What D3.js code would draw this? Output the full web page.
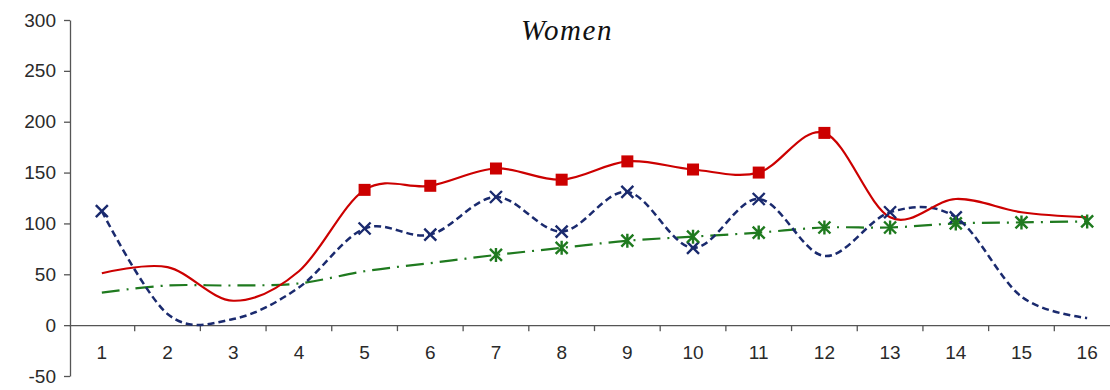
<!DOCTYPE html>
<html>
<head>
<meta charset="utf-8">
<script src="https://cdn.jsdelivr.net/npm/d3@7"></script>
<style>
  html, body { margin: 0; padding: 0; background: #fff; }
  svg { display: block; }
</style>
</head>
<body>
<svg id="chart" width="1110" height="390"></svg>
<script>
const categories = ["1","2","3","4","5","6","7","8","9","10","11","12","13","14","15","16"];
const yTicks = [-50, 0, 50, 100, 150, 200, 250, 300];
const title = "Women";

const redValues   = [51, 57, 24, 53, 133, 137, 154, 143, 161, 153, 150, 189, 106, 124, 111, 106];
const redMarked   = [5, 6, 7, 8, 9, 10, 11, 12];
const blueValues  = [112, 11, 6, 37, 95, 89, 126, 92, 131, 76, 124, 68, 111, 106, 28, 7];
const blueMarked  = [1, 5, 6, 7, 8, 9, 10, 11, 13, 14];
const greenValues = [32, 39, 39, 41, 53, 61, 69, 76, 83, 87, 91, 96, 96, 100, 101, 102];
const greenMarked = [7, 8, 9, 10, 11, 12, 13, 14, 15, 16];

const svg = d3.select("#chart");
const x = d3.scaleBand().domain(categories).range([69, 1120]);
const y = d3.scaleLinear().domain([-50, 300]).range([376, 20]);
const cx = c => x(c) + x.bandwidth() / 2;
const labelFont = "Liberation Sans, Arial, sans-serif";

// Y axis
const yAxis = svg.append("g").attr("transform", "translate(70,0)")
  .call(d3.axisLeft(y).tickValues(yTicks).tickFormat(d => String(d)).tickSize(6).tickSizeOuter(0).tickPadding(8));
yAxis.select(".domain").attr("stroke", "#555").attr("stroke-width", 1.3);
yAxis.selectAll(".tick line").attr("stroke", "#555").attr("stroke-width", 1.3);
yAxis.selectAll(".tick text").attr("fill", "#2a2a2a").style("font-family", labelFont).style("font-size", "19px");

// X axis at y=0
const xAxis = svg.append("g").attr("transform", `translate(0,${y(0)})`)
  .call(d3.axisBottom(x).tickSize(0).tickPadding(20));
xAxis.select(".domain").attr("stroke", "#555").attr("stroke-width", 1.3);
xAxis.selectAll(".tick text").attr("fill", "#2a2a2a").style("font-family", labelFont).style("font-size", "19px");
// tick marks at band boundaries
svg.append("g").selectAll("line").data(categories.slice(1))
  .join("line")
  .attr("x1", d => x(d)).attr("x2", d => x(d))
  .attr("y1", y(0)).attr("y2", y(0) + 6)
  .attr("stroke", "#555").attr("stroke-width", 1.3);

// Title
svg.append("text").attr("x", 567).attr("y", 40).attr("text-anchor", "middle")
  .style("font-family", "Liberation Serif, Times New Roman, serif")
  .style("font-style", "italic").style("font-size", "29px").style("letter-spacing", "1.5px").attr("fill", "#111")
  .text(title);

const line = d3.line().x((d, i) => cx(categories[i])).y(d => y(d)).curve(d3.curveCatmullRom.alpha(0));

const green = "#1f7a1f", blue = "#1a2a6e", red = "#cc0000";

svg.append("path").datum(greenValues).attr("d", line).attr("fill", "none")
  .attr("stroke", green).attr("stroke-width", 2.2).attr("stroke-dasharray", "18,7,2,7");
svg.append("path").datum(blueValues).attr("d", line).attr("fill", "none")
  .attr("stroke", blue).attr("stroke-width", 2.5).attr("stroke-dasharray", "7,4");
svg.append("path").datum(redValues).attr("d", line).attr("fill", "none")
  .attr("stroke", red).attr("stroke-width", 2.2);

// Markers
svg.append("g").selectAll("rect").data(redMarked).join("rect")
  .attr("x", d => cx(categories[d - 1]) - 6).attr("y", d => y(redValues[d - 1]) - 6)
  .attr("width", 12).attr("height", 12).attr("fill", red);

svg.append("g").selectAll("path").data(blueMarked).join("path")
  .attr("transform", d => `translate(${cx(categories[d - 1])},${y(blueValues[d - 1])})`)
  .attr("d", "M-6,-6L6,6M-6,6L6,-6").attr("stroke", blue).attr("stroke-width", 2.4).attr("fill", "none");

svg.append("g").selectAll("path").data(greenMarked).join("path")
  .attr("transform", d => `translate(${cx(categories[d - 1])},${y(greenValues[d - 1])})`)
  .attr("d", "M-6,-6L6,6M-6,6L6,-6M0,-7L0,7").attr("stroke", green).attr("stroke-width", 2.4).attr("fill", "none");
</script>
</body>
</html>
